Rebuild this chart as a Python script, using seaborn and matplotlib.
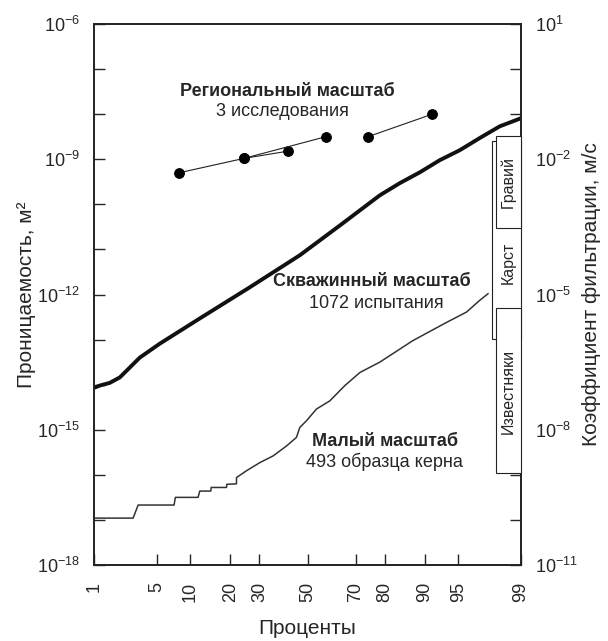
import numpy as np
import pandas as pd
import matplotlib
matplotlib.use("Agg")
import matplotlib.pyplot as plt
import matplotlib.ticker as mticker
from matplotlib.patches import Rectangle
import seaborn as sns
from statistics import NormalDist

# ---------------- data ----------------
pct_ticks = [1, 5, 10, 20, 30, 50, 70, 80, 90, 95, 99]

# borehole scale (1072 tests): cumulative percent, log10 permeability (m2)
bore_pct = [1.0, 1.18, 1.56, 2.04, 2.64, 3.38, 5.38, 12.04, 26.47, 46.65,
            63.76, 78.46, 84.27, 88.95, 92.53, 95.14, 96.97, 98.19, 99.0]
bore_logk = [-14.07, -14.02, -13.96, -13.84, -13.62, -13.40, -13.09, -12.53,
             -11.84, -11.13, -10.47, -9.80, -9.53, -9.29, -9.02, -8.80,
             -8.53, -8.27, -8.09]

# small (core) scale (493 samples)
core_pct = [1.0, 2.87, 3.25, 7.30, 7.49, 11.66, 12.02, 14.6, 14.7, 18.87,
            18.95, 21.95, 21.96, 25.3, 30.15, 35.4, 40.95, 45.2, 46.65, 49.56,
            53.9, 59.6, 65.8, 71.6, 78.46, 87.5, 93.5, 95.84, 96.97, 97.55]
core_logk = [-16.96, -16.96, -16.67, -16.67, -16.50, -16.50, -16.36, -16.36,
             -16.28, -16.28, -16.21, -16.20, -16.06, -15.91, -15.73, -15.58,
             -15.36, -15.17, -14.95, -14.80, -14.54, -14.36, -14.02, -13.73,
             -13.50, -13.02, -12.62, -12.39, -12.13, -11.98]

# regional scale (3 studies)
reg_study = ["A", "A", "A", "B", "B", "C", "C"]
reg_pct = [8.1, 24.5, 41.6, 24.5, 57.9, 74.5, 91.3]
reg_logk = [-9.30, -8.98, -8.82, -8.98, -8.50, -8.50, -8.00]

# rock types: hydraulic conductivity range, log10 K (m/s)
rock_names = ["Карст", "Гравий", "Известняки"]
rock_logK_top = [-1.6, -1.49, -5.31]
rock_logK_bot = [-5.98, -3.53, -8.96]
rock_label_logK = [-4.3, -2.51, -7.15]

# ---------------- style ----------------
sns.set_style("ticks")
plt.rcParams["font.family"] = ["Liberation Sans", "DejaVu Sans"]
plt.rcParams["mathtext.fontset"] = "custom"
plt.rcParams["mathtext.rm"] = "Liberation Sans"
plt.rcParams["mathtext.it"] = "Liberation Sans:italic"
plt.rcParams["mathtext.bf"] = "Liberation Sans:bold"

_nd = NormalDist()


def fwd(p):
    p = np.clip(np.asarray(p, dtype=float), 1e-7, 100 - 1e-7)
    return np.vectorize(lambda v: _nd.inv_cdf(v / 100.0), otypes=[float])(p)


def inv(z):
    z = np.asarray(z, dtype=float)
    return np.vectorize(lambda v: _nd.cdf(v) * 100.0, otypes=[float])(z)


fig = plt.figure(figsize=(6.08, 6.41), dpi=100)
L, R, T, B = 94, 521, 24, 565
ax = fig.add_axes([L / 608, 1 - B / 641, (R - L) / 608, (B - T) / 641])
ax.set_xscale("function", functions=(fwd, inv))
ax.set_yscale("log")
ax.set_xlim(1, 99)
ax.set_ylim(1e-18, 1e-6)

bore = pd.DataFrame({"pct": bore_pct, "k": 10.0 ** np.array(bore_logk)})
core = pd.DataFrame({"pct": core_pct, "k": 10.0 ** np.array(core_logk)})
reg = pd.DataFrame({"study": reg_study, "pct": reg_pct,
                    "k": 10.0 ** np.array(reg_logk)})

sns.lineplot(data=bore, x="pct", y="k", ax=ax, color="#111111", lw=2.8,
             sort=False, estimator=None)
sns.lineplot(data=core, x="pct", y="k", ax=ax, color="#333333", lw=1.1,
             sort=False, estimator=None)
sns.lineplot(data=reg, x="pct", y="k", units="study", estimator=None,
             ax=ax, color="#222222", lw=0.8, sort=False, marker="o",
             markersize=7, markeredgecolor="black", markerfacecolor="black",
             legend=False)

ax.set_xlabel("Проценты", fontsize=15, labelpad=12)
ax.set_ylabel("Проницаемость, м²", fontsize=15, labelpad=1)

ax.xaxis.set_major_locator(mticker.FixedLocator(pct_ticks))
ax.xaxis.set_major_formatter(mticker.FixedFormatter([str(t) for t in pct_ticks]))
ax.xaxis.set_minor_locator(mticker.NullLocator())
for lab in ax.get_xticklabels():
    lab.set_rotation(90)

dec = np.arange(-18, -5)
ax.yaxis.set_major_locator(mticker.FixedLocator(10.0 ** dec))
ax.yaxis.set_minor_locator(mticker.NullLocator())
ax.yaxis.set_major_formatter(mticker.FuncFormatter(
    lambda v, pos: r"$10^{%d}$" % round(np.log10(v)) if round(np.log10(v)) % 3 == 0 else ""))

ax.tick_params(axis="y", which="major", direction="in", length=8, width=1,
               labelsize=13, pad=10, right=False)
ax.tick_params(axis="x", which="major", direction="in", length=8, width=1,
               labelsize=13, pad=12, top=False)
for s in ax.spines.values():
    s.set_linewidth(1.2)
    s.set_color("#222222")

# right axis: hydraulic conductivity
ax2 = ax.twinx()
ax2.set_yscale("log")
ax2.set_ylim(1e-11, 1e1)
dec2 = np.arange(-11, 2)
ax2.yaxis.set_major_locator(mticker.FixedLocator(10.0 ** dec2))
ax2.yaxis.set_minor_locator(mticker.NullLocator())
ax2.yaxis.set_major_formatter(mticker.FuncFormatter(
    lambda v, pos: r"$10^{%d}$" % round(np.log10(v)) if (round(np.log10(v)) + 2) % 3 == 0 else ""))
ax2.tick_params(axis="y", direction="in", length=8, width=1, labelsize=13, pad=10)
ax2.set_ylabel("Коэффициент фильтрации, м/с", fontsize=15, labelpad=3)
for s in ax2.spines.values():
    s.set_linewidth(1.2)
    s.set_color("#222222")

trans = ax2.get_yaxis_transform()
box_left = [0.931, 0.9415, 0.9415]
for i, name in enumerate(rock_names):
    y0 = 10.0 ** rock_logK_bot[i]
    y1 = 10.0 ** rock_logK_top[i]
    rect = Rectangle((box_left[i], y0), 1.0 - box_left[i], y1 - y0,
                     transform=trans, facecolor="white", edgecolor="#222222",
                     lw=0.8, zorder=3 + i, clip_on=False)
    ax2.add_patch(rect)
    ax2.text(0.9696, 10.0 ** rock_label_logK[i], name, rotation=90,
             ha="center", va="center", fontsize=11.5, transform=trans,
             zorder=6)

# annotations
def txt(px, py, s, bold=False):
    ax.text((px - L) / (R - L), (B - py) / (B - T), s, transform=ax.transAxes,
            ha="center", va="center", fontsize=13,
            fontweight="bold" if bold else "normal", zorder=6)

txt(287, 92, "Региональный масштаб", True)
txt(282, 111, "3 исследования")
txt(372, 282, "Скважинный масштаб", True)
txt(376, 303, "1072 испытания")
txt(385, 441, "Малый масштаб", True)
txt(384, 462, "493 образца керна")

fig.savefig("out.png", dpi=100)
